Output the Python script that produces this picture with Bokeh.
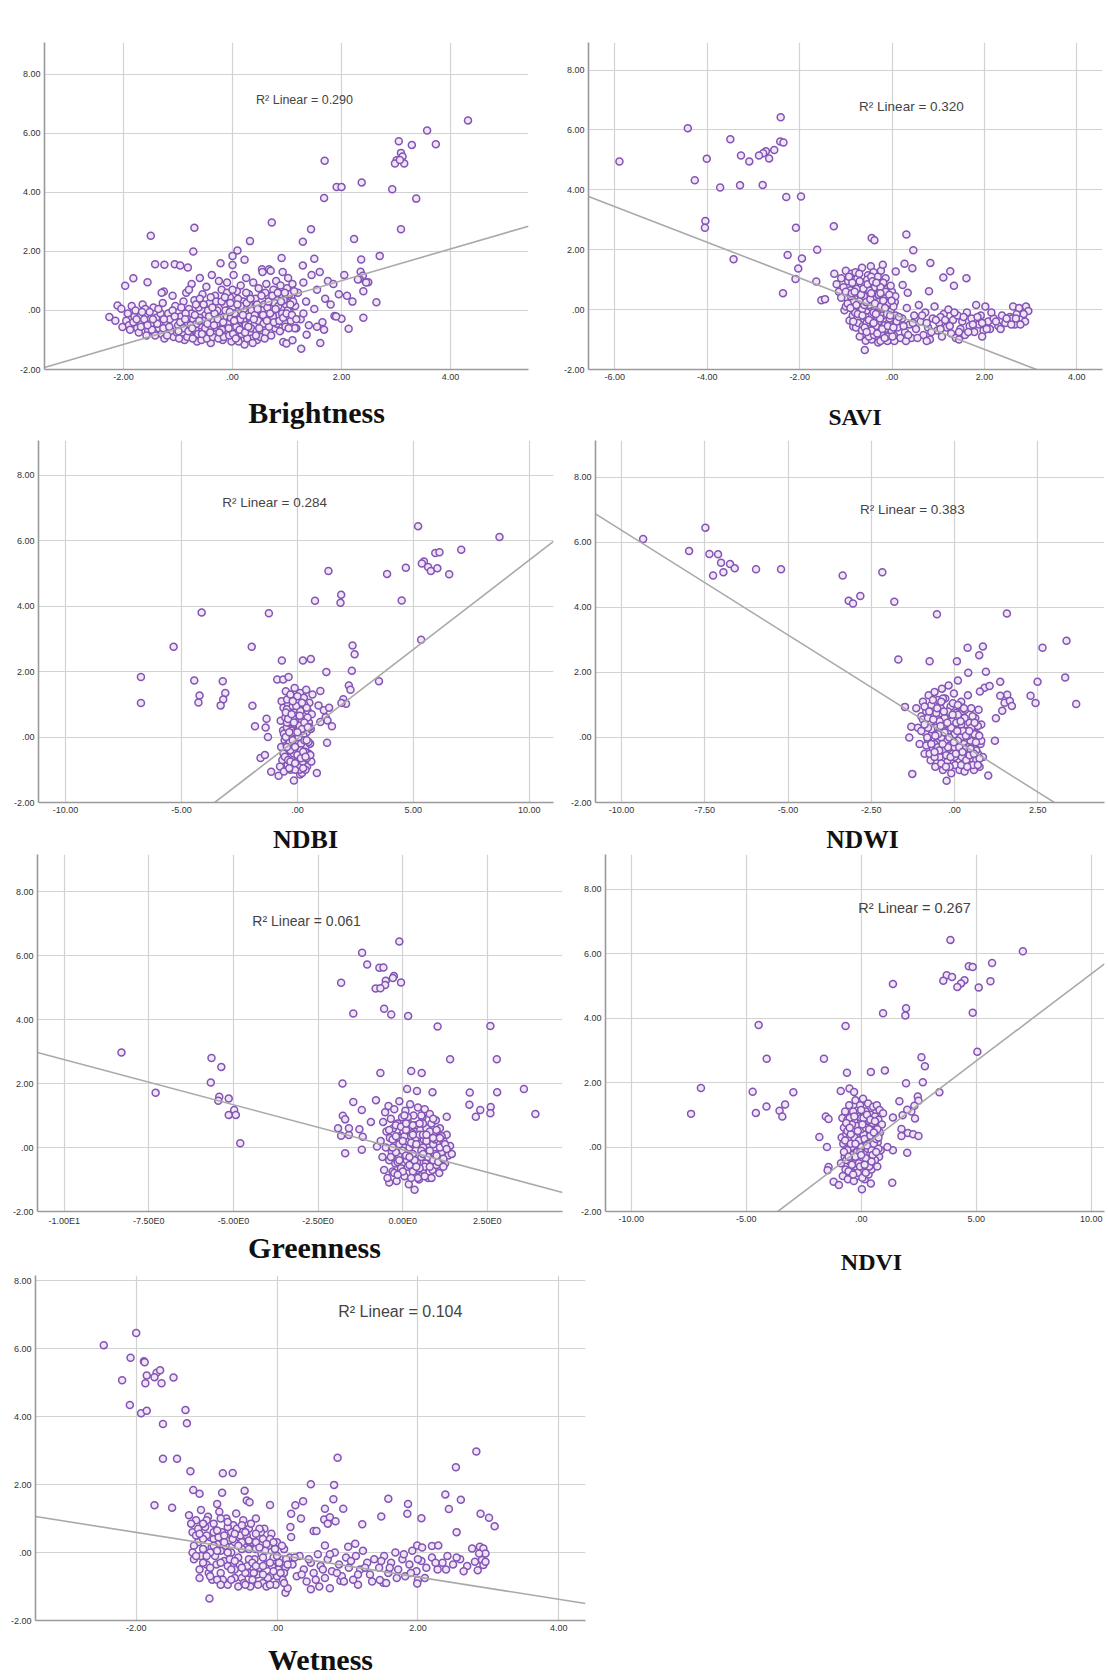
from bokeh.plotting import figure
from bokeh.layouts import column, row
from bokeh.models import Range1d, FixedTicker, CustomJSTickFormatter, Label
from bokeh.embed import file_html
from bokeh.resources import INLINE

# ---------------- data ----------------
y_ticks = [-2, 0, 2, 4, 6, 8]

titles = ["Brightness", "SAVI", "NDBI", "NDWI", "Greenness", "NDVI", "Wetness"]
r2_values = ["0.290", "0.320", "0.284", "0.383", "0.061", "0.267", "0.104"]
fit_slope = [0.539, -0.596, 0.546, -0.644, -0.282, 0.541, -0.328]
fit_intercept = [-0.07, -0.136, -0.05, -0.07, -0.073, -0.036, -0.065]

x_ticks_bright = [-2, 0, 2, 4]
x_ticks_savi = [-6, -4, -2, 0, 2, 4]
x_ticks_ndbi = [-10, -5, 0, 5, 10]
x_ticks_ndwi = [-10, -7.5, -5, -2.5, 0, 2.5]
x_ticks_green = [-10, -7.5, -5, -2.5, 0, 2.5]
x_ticks_ndvi = [-10, -5, 0, 5, 10]
x_ticks_wet = [-2, 0, 2, 4]

bright_pts = [
    (4.32, 6.44), (3.57, 6.10), (3.73, 5.63), (3.29, 5.61), (3.05, 5.73), (3.09, 5.34), (3.12, 5.22),
    (3.01, 5.09), (3.15, 4.98), (2.98, 4.98), (3.07, 5.1), (1.69, 5.07), (1.91, 4.18), (2.0, 4.18),
    (2.37, 4.34), (2.93, 4.11), (1.68, 3.81), (3.37, 3.79), (3.09, 2.75), (0.72, 2.98), (1.44, 2.75),
    (-0.70, 2.80), (-1.50, 2.53), (0.32, 2.35), (1.29, 2.33), (2.23, 2.42), (-0.72, 2.0), (0.09, 2.03),
    (0.0, 1.85), (2.70, 1.85), (0.9, 1.78), (1.5, 1.75), (2.36, 1.73), (0.22, 1.72), (-0.22, 1.6),
    (-1.42, 1.57), (-1.25, 1.55), (-1.06, 1.57), (-0.96, 1.52), (-0.82, 1.46), (0.0, 1.54), (1.29, 1.52),
    (0.54, 1.4), (0.67, 1.4), (2.35, 1.31), (2.39, 1.18), (2.33, 1.07), (2.49, 0.96), (-1.82, 1.09),
    (-1.56, 0.96), (-1.97, 0.84), (-1.26, 0.64), (2.4, 0.65), (2.64, 0.28), (2.4, -0.25), (2.13, -0.62),
    (2.0, -0.28), (1.87, -0.19), (1.17, -0.6), (1.36, -0.82), (1.68, -0.65), (1.61, -1.1), (1.26, -1.3),
    (0.93, -1.07), (0.99, -1.12), (1.1, -1.01), (-2.26, -0.22), (-2.15, -0.35), (-2.02, -0.56),
    (-2.11, 0.17), (-2.04, 0.06),
    (-1.95, -0.35), (-1.9, -0.5), (-1.85, 0.15), (-1.8, -0.2), (-1.75, -0.6), (-1.7, -0.4), (-1.65, 0.2),
    (-1.6, -0.15), (-1.55, -0.7), (-1.5, -0.45), (-1.45, 0.1), (-1.4, -0.25), (-1.35, -0.6), (-1.3, -0.8),
    (-1.28, 0.25), (-1.22, -0.4), (-1.18, -0.1), (-1.12, -0.7), (-1.08, -0.9), (-1.05, 0.15), (-1.0, -0.5),
    (-1.6, 0.05), (-1.72, -0.75), (-1.42, -0.85), (-1.25, -0.95),
    (-0.95, -0.2), (-0.92, -0.75), (-0.9, 0.3), (-0.88, -1.0), (-0.85, 0.6), (-0.82, -0.45), (-0.8, 0.05),
    (-0.78, -0.85), (-0.75, 0.9), (-0.72, -0.3), (-0.7, 0.35), (-0.68, -0.65), (-0.65, -1.05), (-0.62, 0.1),
    (-0.6, 1.1), (-0.58, -0.5), (-0.55, 0.55), (-0.52, -0.9), (-0.5, -0.15), (-0.48, 0.8), (-0.45, -0.7),
    (-0.42, 0.25), (-0.4, -1.1), (-0.38, 1.2), (-0.35, -0.35), (-0.32, 0.5), (-0.3, -0.8), (-0.28, 0.0),
    (-0.25, 1.0), (-0.22, -0.55), (-0.2, 0.7), (-0.18, -1.0), (-0.15, 0.2), (-0.12, -0.3), (-0.1, 0.95),
    (-0.08, -0.75), (-0.05, 0.45), (-0.02, -1.05), (0.0, 0.1), (0.02, 1.2), (0.05, -0.45), (0.08, 0.65),
    (0.1, -0.9), (0.12, -0.1), (0.15, 0.85), (0.18, -0.6), (0.2, 0.3), (0.22, -1.15), (0.25, 1.1),
    (0.28, -0.25), (0.3, 0.55), (0.32, -0.8), (0.35, 0.0), (0.38, 0.95), (0.4, -0.5), (0.42, 0.4),
    (0.45, -1.0), (0.48, 0.75), (-0.6, -0.25), (-0.3, 0.3), (0.0, -0.6), (0.2, -0.35), (-0.15, -0.2),
    (-0.45, 0.0), (-0.75, -0.1), (0.35, -0.95), (-0.1, 0.6), (0.1, 0.4),
    (0.52, -0.2), (0.55, 1.3), (0.58, 0.2), (0.6, -0.55), (0.62, 0.9), (0.65, 0.5), (0.68, -0.3),
    (0.7, 1.35), (0.72, 0.05), (0.75, 0.7), (0.78, -0.6), (0.8, 1.0), (0.82, 0.35), (0.85, -0.15),
    (0.88, 0.85), (0.9, 0.55), (0.92, 1.3), (0.95, -0.4), (0.98, 0.2), (1.0, 0.75), (1.02, 1.1),
    (1.05, -0.05), (1.08, 0.45), (1.1, 0.9), (1.15, 0.15),
    (1.2, 0.6), (1.25, -0.3), (1.3, 0.95), (1.35, 0.3), (1.4, -0.5), (1.45, 1.2), (1.5, 0.05), (1.55, 0.7),
    (1.6, 1.3), (1.65, -0.4), (1.7, 0.4), (1.75, 1.0), (1.8, 0.2), (1.85, 0.9), (1.9, -0.2), (1.95, 0.55),
    (2.05, 1.2), (2.1, 0.5), (2.2, 0.3), (2.3, 1.05), (2.45, 0.95), (1.55, -0.55), (1.3, -0.1),
]
bright_dense = [
    (-1.92, -0.1), (-1.88, -0.65), (-1.82, -0.4), (-1.78, 0.0), (-1.68, -0.55), (-1.62, -0.3), (-1.58, -0.85),
    (-1.52, -0.05), (-1.48, -0.65), (-1.38, -0.45), (-1.32, -0.1), (-1.27, -0.6), (-1.2, -0.85), (-1.15, -0.3),
    (-1.1, 0.0), (-1.02, -0.75), (-0.98, -0.95), (-0.96, -0.4), (-0.9, -0.6), (-0.86, -0.1), (-0.83, -0.9),
    (-0.77, -0.5), (-0.73, -0.95), (-0.69, -0.15), (-0.66, -0.45), (-0.63, -0.8), (-0.57, -1.0), (-0.54, -0.35),
    (-0.5, -0.6), (-0.47, -0.95), (-0.43, -0.2), (-0.39, -0.55), (-0.36, -0.9), (-0.33, -0.1), (-0.29, -0.45),
    (-0.26, -0.95), (-0.23, -0.25), (-0.19, -0.65), (-0.16, -0.9), (-0.13, 0.0), (-0.09, -0.45), (-0.06, -0.85),
    (-0.03, -0.25), (0.01, -0.8), (0.04, -0.1), (0.07, -0.55), (0.11, -1.05), (0.14, -0.3), (0.17, -0.8),
    (0.21, 0.05), (0.24, -0.5), (0.27, -0.95), (0.31, -0.2), (0.34, -0.6), (0.37, -1.1), (0.41, -0.15),
    (0.44, -0.7), (0.47, -0.35), (0.51, -0.9), (0.54, 0.0), (0.57, -0.45), (0.61, -0.75), (0.64, 0.1),
    (0.67, -0.55), (0.71, -0.85), (0.74, -0.2), (0.77, 0.25), (0.81, -0.45), (0.84, 0.15), (0.87, -0.7),
    (0.91, -0.1), (0.94, 0.35), (0.97, -0.55), (1.01, 0.0), (1.04, 0.55), (1.07, -0.35), (1.11, 0.3),
    (1.14, -0.6), (-0.4, 0.45), (-0.2, 0.3), (0.0, 0.7), (0.25, 0.6), (-0.6, 0.4), (-0.8, 0.7), (0.45, 0.2),
    (0.6, 0.6), (-1.1, 0.5), (-1.3, 0.6), (0.15, 0.15), (-0.05, -0.05), (0.3, 0.2),
]
bright_dense2 = [
    (-1.76, -0.3), (-1.66, -0.05), (-1.56, -0.5), (-1.46, -0.3), (-1.36, 0.05), (-1.26, -0.3), (-1.16, -0.55),
    (-1.06, -0.2), (-0.99, -0.7), (-0.94, 0.1), (-0.87, -0.3), (-0.81, -0.7), (-0.74, -0.6), (-0.67, 0.2),
    (-0.61, -0.35), (-0.56, -0.8), (-0.53, 0.2), (-0.46, -0.45), (-0.41, -0.75), (-0.37, 0.1), (-0.34, -0.5),
    (-0.27, -0.3), (-0.24, -0.75), (-0.17, -0.4), (-0.14, 0.45), (-0.07, -0.6), (-0.04, 0.25), (0.03, -0.35),
    (0.06, -0.95), (0.09, 0.2), (0.13, -0.65), (0.19, -0.15), (0.23, -0.75), (0.26, 0.25), (0.29, -0.55),
    (0.33, 0.4), (0.39, -0.3), (0.43, -0.85), (0.46, 0.05), (0.49, -0.6), (0.53, 0.5), (0.56, -0.15),
    (0.59, -0.95), (0.63, -0.35), (0.66, 0.3), (0.69, -0.1), (0.73, 0.5), (0.76, -0.4), (0.79, 0.05),
    (0.83, 0.6), (0.86, -0.35), (0.89, 0.3), (0.93, -0.25), (0.96, 0.6), (0.99, -0.1), (1.03, -0.6),
    (1.06, 0.2), (1.09, -0.15), (1.13, 0.65), (1.17, -0.3),
]

savi_pts = [
    (-5.90, 4.95), (-4.42, 6.06), (-2.41, 6.42), (-3.50, 5.69), (-2.42, 5.61), (-2.35, 5.58), (-2.55, 5.33),
    (-2.73, 5.29), (-2.79, 5.22), (-2.88, 5.15), (-2.66, 5.05), (-3.27, 5.15), (-3.09, 4.95), (-4.01, 5.04),
    (-4.27, 4.32), (-3.72, 4.08), (-3.29, 4.15), (-2.80, 4.16), (-2.29, 3.76), (-1.97, 3.78), (-4.04, 2.96),
    (-4.05, 2.73), (-2.08, 2.73), (-1.26, 2.78), (-3.43, 1.68), (-2.26, 1.82), (-1.95, 1.71), (-1.62, 2.0),
    (-2.36, 0.55), (-2.03, 1.37), (-2.09, 1.02), (-1.64, 0.94), (-1.53, 0.31), (-1.45, 0.35), (-1.03, -0.02),
    (-0.92, -0.36), (-0.84, -0.56), (-0.44, 2.39), (-0.38, 2.32), (0.31, 2.51), (0.46, 1.98), (0.08, 1.27),
    (0.27, 1.53), (0.44, 1.38), (0.83, 1.56), (1.26, 1.28), (1.61, 1.05), (1.11, 1.07), (1.34, 0.80),
    (0.80, 0.61), (0.34, 0.56), (0.23, 0.82), (-0.59, -1.35), (-0.57, -1.04),
    (-1.25, 1.2), (-1.2, 0.85), (-1.15, 0.6), (-1.1, 1.05), (-1.05, 0.75), (-1.0, 1.3), (-0.98, 0.4),
    (-0.95, 0.95), (-0.92, 0.15), (-0.9, 0.65), (-0.88, 1.2), (-0.85, -0.2), (-0.82, 0.85), (-0.8, 0.35),
    (-0.78, -0.6), (-0.75, 1.05), (-0.72, 0.05), (-0.7, 0.6), (-0.68, -0.35), (-0.65, 1.4), (-0.62, 0.25),
    (-0.6, -0.8), (-0.58, 0.8), (-0.55, -0.1), (-0.52, 1.15), (-0.5, 0.45), (-0.48, -0.55), (-0.46, 1.45),
    (-0.44, -1.0), (-0.42, 0.7), (-0.4, 0.1), (-0.38, -0.3), (-0.36, 1.0), (-0.34, -0.75), (-0.32, 0.4),
    (-0.3, -1.1), (-0.28, 0.9), (-0.26, -0.05), (-0.24, 1.3), (-0.22, -0.5), (-0.2, 0.55), (-0.18, -0.9),
    (-0.16, 0.2), (-0.14, 1.05), (-0.12, -0.25), (-0.1, 0.7), (-0.08, -0.7), (-0.06, 0.35), (-0.04, -1.0),
    (-0.02, 0.0), (0.0, 0.6), (0.02, -0.45), (0.04, -0.85), (0.06, 0.25), (0.08, -0.2), (-0.55, 0.5),
    (-0.35, 0.55), (-0.25, 0.25), (-0.65, 0.0), (-0.45, -0.2), (-0.15, -0.5), (-0.7, -0.9), (-0.5, -0.9),
    (-0.3, -0.6), (-0.1, -1.05), (-0.6, 0.9), (-0.4, 1.25), (-0.2, 1.5), (-0.85, 0.3), (-1.0, 0.1),
    (-1.1, 0.4), (-0.75, -0.3),
    (0.12, -0.6), (0.18, -0.95), (0.22, -0.3), (0.28, -0.75), (0.32, 0.05), (0.38, -0.5), (0.42, -0.95),
    (0.48, -0.2), (0.52, -0.65), (0.58, 0.15), (0.62, -0.4), (0.68, -0.85), (0.72, -0.1), (0.78, -0.6),
    (0.82, -1.0), (0.88, -0.3), (0.92, 0.1), (0.98, -0.7), (1.02, -0.45), (1.08, -0.9), (1.12, -0.15),
    (1.18, -0.6), (1.22, 0.0), (1.28, -0.8), (1.32, -0.35), (1.38, -0.95), (1.42, -0.2), (1.48, -0.65),
    (1.52, -0.4), (1.58, -0.85), (1.62, -0.1), (1.68, -0.55), (1.72, -0.3), (1.78, -0.75), (1.82, 0.15),
    (1.88, -0.5), (1.92, -0.2), (1.98, -0.7), (2.02, 0.1), (2.08, -0.4), (2.12, -0.65), (2.2, -0.3),
    (2.3, -0.55), (2.38, -0.2), (2.45, -0.45), (2.55, -0.25), (2.62, 0.1), (2.66, -0.5), (2.7, -0.15),
    (2.75, 0.05), (2.82, -0.3), (2.9, 0.1), (2.95, -0.05), (2.88, -0.4), (0.3, -1.05), (0.75, -1.05),
    (1.05, -0.25), (1.45, -1.0), (1.95, -0.9), (2.6, -0.3),
]
savi_dense = [
    (-1.0, 0.6), (-0.96, 0.2), (-0.93, 1.1), (-0.89, 0.45), (-0.86, 0.9), (-0.83, 0.05), (-0.79, 1.25),
    (-0.76, 0.7), (-0.73, -0.45), (-0.69, 0.3), (-0.66, 0.85), (-0.63, -0.55), (-0.61, 0.45), (-0.57, -0.25),
    (-0.54, 1.0), (-0.51, -0.65), (-0.49, 0.15), (-0.47, 0.8), (-0.43, -0.4), (-0.41, 0.35), (-0.39, -0.85),
    (-0.37, 0.75), (-0.33, -0.1), (-0.31, 1.1), (-0.29, -0.4), (-0.27, 0.6), (-0.23, -0.8), (-0.21, 0.1),
    (-0.19, 0.9), (-0.17, -0.3), (-0.13, 0.45), (-0.11, -0.9), (-0.09, 0.15), (-0.07, -0.45), (-0.03, 0.8),
    (-0.01, -0.7), (0.03, 0.1), (0.05, -1.05), (0.07, 0.45), (0.1, -0.4), (-0.5, 0.65), (-0.3, 0.25),
    (-0.2, -0.2), (-0.6, 0.15), (-0.4, -0.1), (-0.1, 0.2), (-0.7, 0.95), (-0.45, 1.1), (-0.25, 0.75),
    (-0.15, -0.65), (-0.35, -0.55), (-0.55, -0.45), (-0.8, -0.1), (-0.65, -0.7), (-0.25, -1.05), (-0.05, -0.3),
    (0.15, -0.25), (0.25, -0.55), (0.35, -0.85), (0.45, -0.45), (0.55, -0.95), (0.65, -0.2), (0.75, -0.45),
    (0.85, -0.75), (0.95, -0.35), (1.05, -0.65), (1.15, -0.35), (1.25, -0.55), (1.35, -0.1), (1.45, -0.75),
    (1.55, -0.25), (1.65, -0.75), (1.75, -0.5), (1.85, -0.25), (1.95, -0.45), (2.05, -0.65), (2.15, -0.1),
    (2.25, -0.4), (2.35, -0.65), (2.48, -0.3), (2.58, -0.5), (2.68, -0.3), (2.78, -0.5), (2.85, -0.15),
]
savi_dense2 = [
    (-0.9, 0.05), (-0.87, 0.55), (-0.84, -0.4), (-0.81, 0.6), (-0.77, 0.15), (-0.74, -0.15), (-0.71, 1.2),
    (-0.67, 0.5), (-0.64, -0.2), (-0.62, 0.7), (-0.59, -0.6), (-0.56, 0.25), (-0.53, 0.85), (-0.5, -0.35),
    (-0.47, 0.35), (-0.44, -0.7), (-0.42, 0.95), (-0.4, -0.45), (-0.37, 0.2), (-0.34, 0.9), (-0.32, -0.8),
    (-0.29, 0.5), (-0.26, -0.3), (-0.24, 0.1), (-0.21, -0.65), (-0.19, 0.3), (-0.16, -0.95), (-0.14, 0.6),
    (-0.11, -0.15), (-0.09, -0.55), (-0.06, 0.5), (-0.04, -0.2), (-0.01, 0.3), (0.01, -0.9), (0.03, -0.6),
    (-0.45, 0.55), (-0.25, 0.55), (-0.55, -0.75), (-0.35, -0.15), (-0.15, 0.05),
]

ndbi_pts = [
    (5.21, 6.45), (8.72, 6.12), (7.07, 5.73), (5.95, 5.63), (6.13, 5.65), (5.46, 5.37), (5.37, 5.31),
    (5.64, 5.2), (5.76, 5.08), (6.04, 5.16), (6.55, 4.98), (4.68, 5.18), (3.87, 4.99), (1.34, 5.08),
    (4.50, 4.18), (1.89, 4.35), (1.86, 4.11), (0.76, 4.17), (-4.13, 3.81), (-1.23, 3.79), (-5.34, 2.76),
    (-1.97, 2.76), (5.34, 2.98), (2.38, 2.80), (2.47, 2.53), (-0.67, 2.34), (0.24, 2.34), (0.58, 2.39),
    (2.35, 2.03), (1.25, 1.99), (-6.75, 1.84), (-6.75, 1.04), (-4.45, 1.73), (-3.22, 1.71), (-4.22, 1.27),
    (-4.27, 1.06), (-3.11, 1.35), (-3.2, 1.15), (-3.31, 0.97), (-1.94, 0.96), (3.52, 1.71), (2.22, 1.58),
    (2.29, 1.45), (1.98, 1.16), (2.1, 1.02), (1.9, 1.04), (0.99, 1.41), (-0.87, 1.76), (-0.61, 1.76),
    (-0.38, 1.84), (1.49, 0.33), (1.28, -0.17), (0.84, -1.1), (-1.83, 0.33), (-1.37, 0.29), (-1.33, 0.56),
    (-1.27, 0.0), (-1.59, -0.64), (-1.40, -0.55), (-1.13, -1.06), (-0.15, -1.33), (-0.81, -1.18),
    (0.12, -1.14), (0.91, 0.97), (1.14, 0.82), (1.37, 0.9), (0.99, 0.46), (1.22, 0.61), (1.3, 0.51),
    (-0.75, -0.9), (-0.72, 0.5), (-0.7, -0.3), (-0.68, 1.1), (-0.65, -0.7), (-0.62, 0.2), (-0.6, 0.9),
    (-0.58, -1.05), (-0.55, -0.1), (-0.52, 0.6), (-0.5, 1.4), (-0.48, -0.5), (-0.45, 0.3), (-0.42, -0.85),
    (-0.4, 1.0), (-0.38, 0.0), (-0.35, -0.4), (-0.32, 0.75), (-0.3, -1.0), (-0.28, 0.4), (-0.25, 1.25),
    (-0.22, -0.2), (-0.2, -0.7), (-0.18, 0.55), (-0.15, 0.1), (-0.12, 1.5), (-0.1, -0.55), (-0.08, 0.85),
    (-0.05, -0.95), (-0.02, 0.3), (0.0, -0.25), (0.02, 1.1), (0.05, -0.75), (0.08, 0.6), (0.1, 0.05),
    (0.12, 1.35), (0.15, -0.45), (0.18, 0.9), (0.2, -1.1), (0.22, 0.35), (0.25, -0.15), (0.28, 1.2),
    (0.3, -0.65), (0.32, 0.65), (0.35, -0.3), (0.38, 1.45), (0.4, 0.15), (0.42, -0.9), (0.45, 0.8),
    (0.48, -0.5), (0.5, 0.45), (0.52, 1.05), (0.55, -0.2), (0.58, 0.25), (0.6, -0.75), (0.62, 0.7),
    (0.65, 1.3), (-0.3, 0.1), (0.0, 0.5), (0.2, 0.0), (-0.15, -0.35), (-0.45, 0.85), (0.35, -1.0),
    (-0.6, -0.5), (0.1, -1.0), (-0.25, -0.6),
]
ndbi_dense = [
    (-0.58, 0.1), (-0.54, -0.6), (-0.5, 0.75), (-0.46, -0.25), (-0.44, 1.15), (-0.4, -0.7), (-0.36, 0.45),
    (-0.33, -0.15), (-0.3, 1.3), (-0.26, -0.85), (-0.23, 0.2), (-0.2, 0.95), (-0.16, -0.5), (-0.13, 0.4),
    (-0.1, -1.0), (-0.06, 0.65), (-0.03, -0.1), (0.0, 1.25), (0.03, -0.55), (0.06, 0.25), (0.1, -0.85),
    (0.13, 0.8), (0.16, -0.2), (0.2, 0.5), (0.23, -0.75), (0.26, 0.05), (0.3, 1.0), (0.33, -0.45),
    (0.36, 0.35), (0.4, -0.65), (0.44, 0.6), (0.48, -0.15), (0.52, 0.3), (0.56, -0.55), (-0.1, 0.15),
    (0.1, 0.35), (-0.3, -0.4), (0.3, -0.1), (-0.2, 0.6), (0.15, -0.4), (-0.45, 0.45), (0.4, 0.9),
    (-0.5, 0.0), (-0.45, -0.3), (-0.4, 0.55), (-0.35, 0.15), (-0.3, -0.75), (-0.25, 0.7), (-0.2, -0.1),
    (-0.15, 0.45), (-0.1, -0.3), (-0.05, 0.95), (0.0, -0.55), (0.05, 0.0), (0.1, 0.65), (0.15, -0.65),
    (0.2, 0.25), (0.25, -0.45), (0.3, 0.45), (0.35, -0.6), (0.4, -0.1), (0.45, 0.3), (-0.2, 1.1),
    (0.2, 1.05), (0.0, 0.15), (-0.35, -0.95), (0.25, -0.95), (-0.1, -0.8),
]

ndwi_pts = [
    (-9.35, 6.10), (-7.48, 6.45), (-7.97, 5.73), (-7.36, 5.64), (-7.10, 5.63), (-7.01, 5.37), (-6.74, 5.33),
    (-6.60, 5.20), (-6.94, 5.08), (-7.25, 4.98), (-5.96, 5.17), (-5.21, 5.17), (-3.36, 4.98), (-2.17, 5.08),
    (-3.18, 4.20), (-3.05, 4.12), (-2.83, 4.35), (-1.81, 4.17), (-0.53, 3.79), (1.57, 3.81), (-1.69, 2.40),
    (-0.75, 2.34), (0.07, 2.34), (0.39, 2.76), (0.85, 2.80), (0.74, 2.53), (0.41, 1.99), (0.94, 2.02),
    (3.36, 2.97), (2.64, 2.76), (3.32, 1.84), (2.49, 1.71), (2.28, 1.28), (2.43, 1.06), (3.65, 1.03),
    (1.37, 1.71), (1.58, 1.31), (1.5, 1.07), (1.43, 0.82), (1.66, 1.12), (1.72, 0.97), (1.37, 1.28),
    (0.9, 1.53), (1.05, 1.58), (0.76, 1.41), (1.24, 0.59), (1.21, -0.1), (-1.49, 0.94), (-1.27, -1.12),
    (1.01, -1.17), (-1.36, 0.0), (-1.30, 0.33), (-0.24, -1.33),
    (-1.15, 0.9), (-1.1, 0.3), (-1.05, -0.2), (-1.0, 0.65), (-0.95, 1.1), (-0.9, -0.5), (-0.88, 0.15),
    (-0.85, 0.8), (-0.8, -0.1), (-0.78, 1.3), (-0.75, 0.45), (-0.72, -0.7), (-0.7, 1.0), (-0.68, 0.1),
    (-0.65, -0.35), (-0.62, 0.7), (-0.6, 1.4), (-0.58, -0.9), (-0.55, 0.3), (-0.52, -0.15), (-0.5, 1.15),
    (-0.48, 0.55), (-0.45, -0.6), (-0.42, 0.9), (-0.4, 0.0), (-0.38, 1.5), (-0.35, -1.0), (-0.32, 0.4),
    (-0.3, -0.4), (-0.28, 1.2), (-0.25, 0.7), (-0.22, -0.75), (-0.2, 0.2), (-0.18, 1.6), (-0.15, -0.25),
    (-0.12, 0.95), (-0.1, -1.1), (-0.08, 0.5), (-0.05, -0.5), (-0.02, 1.35), (0.0, 0.1), (0.02, -0.85),
    (0.05, 0.75), (0.08, -0.3), (0.1, 1.75), (0.12, 0.35), (0.15, -1.0), (0.18, 0.0), (0.2, 1.1),
    (0.22, -0.6), (0.25, 0.6), (0.28, -0.2), (0.3, -1.05), (0.32, 0.85), (0.35, 0.2), (0.38, -0.45),
    (0.4, 1.3), (0.42, -0.8), (0.45, 0.45), (0.48, -0.1), (0.5, 0.9), (0.52, -0.65), (0.55, 0.3),
    (0.58, -1.0), (0.6, -0.35), (0.62, 0.6), (0.65, -0.7), (0.68, 0.1), (0.7, -0.5), (0.72, 0.85),
    (0.75, -0.9), (0.78, -0.2), (0.8, 0.4), (0.85, -0.6), (-0.6, -0.2), (-0.3, 0.6), (0.0, -0.3),
    (-0.45, 0.2), (0.2, 0.4), (-0.7, 0.5), (0.4, -0.3),
]
ndwi_dense = [
    (-1.0, 0.2), (-0.95, 0.55), (-0.9, 0.95), (-0.85, -0.25), (-0.8, 0.6), (-0.75, -0.5), (-0.7, 0.25),
    (-0.65, 1.15), (-0.6, -0.6), (-0.55, 0.75), (-0.5, -0.3), (-0.45, 0.5), (-0.4, -0.8), (-0.35, 1.2),
    (-0.3, 0.15), (-0.25, -0.55), (-0.2, 0.8), (-0.15, -0.9), (-0.1, 0.3), (-0.05, 1.05), (0.0, -0.6),
    (0.05, 0.45), (0.1, -0.1), (0.15, 0.95), (0.2, -0.85), (0.25, 0.2), (0.3, 0.6), (0.35, -0.7),
    (0.4, 0.05), (0.45, -0.55), (0.5, 0.3), (0.55, -0.85), (0.6, 0.1), (0.65, -0.4), (0.7, 0.35),
    (0.75, -0.65), (0.8, -0.1), (-0.2, -0.3), (0.1, 0.7), (-0.5, 0.1), (0.3, -0.35), (-0.8, 0.3),
    (-0.9, 0.4), (-0.82, 0.0), (-0.76, 0.8), (-0.7, -0.2), (-0.64, 0.55), (-0.58, 0.05), (-0.52, 0.9),
    (-0.46, -0.4), (-0.42, 0.35), (-0.36, -0.2), (-0.32, 0.8), (-0.26, -0.9), (-0.22, 0.45), (-0.16, 0.0),
    (-0.12, -0.6), (-0.06, 0.7), (-0.02, -0.15), (0.04, -0.5), (0.08, 0.2), (0.14, -0.3), (0.18, 0.5),
    (0.24, -0.45), (0.28, 0.9), (0.34, 0.05), (0.38, -0.9), (0.44, 0.2), (0.48, -0.35), (0.54, 0.65),
    (0.58, -0.5), (0.64, -0.15), (0.7, -0.85), (0.74, 0.05), (0.1, 1.0), (-0.4, 1.1), (0.6, 0.45),
    (-0.6, -0.45),
]

green_pts = [
    (-0.10, 6.44), (-1.20, 6.09), (-1.05, 5.72), (-0.69, 5.62), (-0.57, 5.63), (-0.26, 5.36), (-0.29, 5.30),
    (-0.5, 5.21), (-0.52, 5.08), (-0.05, 5.16), (-1.82, 5.15), (-0.80, 4.97), (-0.66, 4.98), (-0.55, 4.34),
    (-1.46, 4.19), (-0.34, 4.16), (0.16, 4.11), (1.03, 3.78), (2.59, 3.80), (-8.31, 2.97), (-5.65, 2.80),
    (-5.36, 2.52), (-5.67, 2.03), (-7.30, 1.71), (1.40, 2.76), (2.78, 2.76), (-0.66, 2.33), (0.25, 2.39),
    (0.56, 2.33), (-1.78, 2.0), (0.13, 1.83), (0.42, 1.77), (0.88, 1.73), (1.98, 1.72), (2.79, 1.73),
    (3.58, 1.83), (3.92, 1.05), (1.97, 1.34), (2.29, 1.17), (2.16, 0.96), (2.6, 1.27), (2.59, 1.07),
    (1.30, 0.96), (-5.42, 1.59), (-5.45, 1.46), (-5.14, 1.53), (-4.98, 1.17), (-5.14, 1.02), (-4.93, 1.02),
    (-4.80, 0.13), (-1.46, 1.42), (-1.21, 1.17), (-1.77, 0.99), (-1.70, 0.88), (-0.79, 1.48), (-1.91, 0.60),
    (-1.82, 0.37), (-1.59, 0.39), (-1.59, 0.60), (-1.28, 0.57), (-1.18, 0.34), (-0.94, 0.80), (-1.70, -0.18),
    (-1.21, -0.07), (-0.76, 0.03), (-0.40, -1.09), (0.35, -1.32),
    (-0.65, 0.2), (-0.6, -0.3), (-0.58, 0.8), (-0.55, -0.7), (-0.52, 1.1), (-0.5, 0.0), (-0.48, 0.5),
    (-0.45, -0.95), (-0.42, 1.3), (-0.4, -0.4), (-0.38, 0.3), (-0.35, 0.9), (-0.32, -0.15), (-0.3, -0.75),
    (-0.28, 0.6), (-0.25, 1.2), (-0.22, -0.5), (-0.2, 0.1), (-0.18, -1.05), (-0.15, 0.75), (-0.12, -0.25),
    (-0.1, 1.45), (-0.08, 0.35), (-0.05, -0.65), (-0.02, 0.95), (0.0, -0.1), (0.02, 0.5), (0.05, -0.9),
    (0.08, 1.15), (0.1, 0.2), (0.12, -0.4), (0.15, 0.8), (0.18, -1.15), (0.2, 0.0), (0.22, 1.35),
    (0.25, -0.6), (0.28, 0.45), (0.3, -0.2), (0.32, 1.0), (0.35, -0.85), (0.38, 0.3), (0.4, 0.7),
    (0.42, -0.45), (0.45, 1.25), (0.48, -1.0), (0.5, 0.1), (0.52, 0.55), (0.55, -0.3), (0.58, 0.95),
    (0.6, -0.7), (0.62, 0.25), (0.65, 1.2), (0.68, -0.5), (0.7, 0.6), (0.72, -0.1), (0.75, -0.95),
    (0.78, 0.35), (0.8, 1.05), (0.82, -0.35), (0.85, 0.75), (0.88, -0.7), (0.9, 0.1), (0.92, 0.45),
    (0.95, -0.2), (0.98, 0.85), (1.0, -0.55), (1.05, 0.3), (1.08, -0.8), (1.1, 0.6), (1.15, -0.15),
    (1.2, 0.2), (1.25, -0.5), (1.3, 0.4), (1.35, -0.25), (1.4, 0.05), (1.45, -0.2), (0.3, 0.1), (0.6, 0.0),
    (-0.1, 0.3), (0.15, -0.6), (0.45, -0.7), (0.8, -0.1),
]
green_dense = [
    (-0.4, 0.55), (-0.35, -0.3), (-0.3, 0.25), (-0.25, -0.8), (-0.2, 0.7), (-0.15, -0.45), (-0.1, 0.1),
    (-0.05, 0.65), (0.0, -0.75), (0.05, 0.35), (0.1, -0.25), (0.15, 0.95), (0.2, -0.55), (0.25, 0.15),
    (0.3, 0.7), (0.35, -0.4), (0.4, 0.1), (0.45, -0.95), (0.5, 0.4), (0.55, -0.1), (0.6, 0.75), (0.65, -0.6),
    (0.7, 0.2), (0.75, -0.3), (0.8, 0.5), (0.85, -0.95), (0.9, -0.4), (0.95, 0.25), (1.0, 0.55), (1.05, -0.45),
    (1.1, 0.0), (1.15, 0.35), (1.2, -0.35), (1.25, 0.1), (0.3, -0.75), (0.6, 0.4), (0.1, 0.55), (-0.2, -0.15),
    (0.9, 0.9), (0.5, -0.65),
    (-0.3, 0.0), (-0.2, 0.35), (-0.1, -0.4), (0.0, 0.2), (0.1, 0.75), (0.2, -0.3), (0.3, 0.4), (0.4, -0.6),
    (0.5, 0.75), (0.6, -0.2), (0.7, 0.4), (0.8, -0.6), (0.9, 0.3), (1.0, -0.25), (1.1, 0.3), (1.2, -0.6),
    (0.25, -0.95), (0.65, -0.9), (0.05, 1.0), (0.55, 1.0), (-0.15, -0.85), (1.3, -0.05),
]

ndvi_pts = [
    (3.88, 6.43), (7.03, 6.08), (5.69, 5.71), (4.68, 5.61), (4.85, 5.59), (3.72, 5.33), (3.95, 5.28),
    (3.57, 5.16), (4.49, 5.18), (4.34, 5.08), (4.18, 4.97), (5.62, 5.15), (5.11, 4.95), (1.38, 5.06),
    (0.95, 4.15), (1.95, 4.31), (1.92, 4.08), (4.85, 4.17), (-4.46, 3.79), (-0.68, 3.76), (5.05, 2.96),
    (-4.11, 2.74), (-1.62, 2.74), (2.62, 2.79), (2.77, 2.51), (-0.62, 2.31), (0.42, 2.33), (1.03, 2.38),
    (1.95, 1.98), (2.68, 2.01), (-6.97, 1.83), (-7.40, 1.03), (-4.72, 1.72), (-2.95, 1.70), (-4.58, 1.06),
    (-4.12, 1.26), (-3.55, 1.13), (-3.43, 0.95), (-3.31, 1.32), (3.40, 1.70), (1.66, 1.42), (2.46, 1.57),
    (2.49, 1.44), (2.31, 1.28), (2.18, 1.10), (2.34, 0.89), (2.0, 1.16), (1.38, 0.92), (1.8, 0.99),
    (1.75, 0.56), (2.03, 0.44), (2.26, 0.40), (2.49, 0.34), (1.75, 0.34), (1.38, -0.10), (2.0, -0.18),
    (1.35, -1.11), (1.14, 0.0), (-1.82, 0.31), (-1.49, 0.0), (-1.54, 0.95), (-1.42, 0.87), (-1.42, -0.62),
    (-1.46, -0.72), (-1.2, -1.08), (-0.97, -1.18), (0.03, -1.31), (0.42, -1.13), (-0.89, 1.74),
    (-0.51, 1.82), (-0.31, 1.71),
    (-0.88, -0.5), (-0.85, 0.3), (-0.82, 0.9), (-0.8, -0.9), (-0.78, 0.1), (-0.75, 0.6), (-0.72, -0.3),
    (-0.7, 1.1), (-0.68, -0.7), (-0.65, 0.4), (-0.62, -0.05), (-0.6, 0.85), (-0.58, -1.0), (-0.55, 0.2),
    (-0.52, 1.3), (-0.5, -0.45), (-0.48, 0.65), (-0.45, -0.8), (-0.42, 0.0), (-0.4, 1.0), (-0.38, -0.25),
    (-0.35, 0.5), (-0.32, -1.05), (-0.3, 0.8), (-0.28, 0.15), (-0.25, 1.45), (-0.22, -0.6), (-0.2, 0.35),
    (-0.18, -0.15), (-0.15, 1.15), (-0.12, -0.9), (-0.1, 0.6), (-0.08, 0.05), (-0.05, 1.3), (-0.02, -0.4),
    (0.0, 0.9), (0.02, -0.75), (0.05, 0.3), (0.08, 1.5), (0.1, -0.2), (0.12, 0.7), (0.15, -1.0),
    (0.18, 0.1), (0.2, 1.1), (0.22, -0.5), (0.25, 0.45), (0.28, -0.05), (0.3, 1.35), (0.32, -0.85),
    (0.35, 0.8), (0.38, 0.2), (0.4, -0.35), (0.42, 1.0), (0.45, -0.7), (0.48, 0.55), (0.5, 0.0),
    (0.52, 1.25), (0.55, -0.5), (0.58, 0.35), (0.6, 0.95), (0.62, -0.2), (0.65, 0.6), (0.68, 1.3),
    (0.7, -0.6), (0.72, 0.15), (0.75, 0.85), (0.78, -0.3), (0.8, 1.15), (0.82, 0.45), (0.85, -0.1),
    (0.9, 0.7), (0.95, 1.05), (-0.3, -0.5), (0.1, 0.4), (0.3, -0.4), (-0.5, 0.3), (0.0, 0.0), (0.4, 0.6),
]
ndvi_dense = [
    (-0.7, 0.2), (-0.65, -0.4), (-0.6, 0.5), (-0.55, -0.75), (-0.5, 0.9), (-0.45, 0.1), (-0.4, -0.55),
    (-0.35, 1.1), (-0.3, 0.3), (-0.25, -0.3), (-0.2, 0.65), (-0.15, -0.8), (-0.1, 0.2), (-0.05, -0.15),
    (0.0, 0.55), (0.05, -0.95), (0.1, 0.9), (0.15, 0.25), (0.2, -0.35), (0.25, 1.0), (0.3, 0.1),
    (0.35, -0.6), (0.4, 0.35), (0.45, -0.1), (0.5, 0.75), (0.55, 0.1), (0.6, -0.4), (0.65, 0.25),
    (0.7, 0.55), (0.75, -0.05), (-0.4, 0.7), (0.2, 0.6), (-0.1, -0.5), (0.5, -0.25), (-0.6, -0.1), (0.0, 1.15),
    (-0.75, -0.15), (-0.65, 0.75), (-0.55, -0.3), (-0.45, 0.4), (-0.35, -0.85), (-0.25, 0.1), (-0.15, 0.5),
    (-0.05, -0.6), (0.05, 0.7), (0.15, -0.55), (0.25, 0.05), (0.35, 0.55), (0.45, -0.45), (0.55, 0.45),
    (0.65, -0.15), (0.75, 0.3), (-0.3, 0.95), (0.2, -0.8), (0.0, -0.25), (0.4, 0.85), (-0.5, 0.6), (0.6, 0.8),
]

wet_pts = [
    (-2.46, 6.10), (-2.0, 6.46), (-2.08, 5.73), (-1.89, 5.63), (-1.88, 5.60), (-2.20, 5.07), (-1.85, 5.21),
    (-1.87, 4.98), (-1.71, 5.29), (-1.74, 5.16), (-1.66, 5.36), (-1.64, 4.98), (-1.47, 5.15), (-2.09, 4.34),
    (-1.93, 4.10), (-1.85, 4.17), (-1.30, 4.19), (-1.28, 3.80), (-1.62, 3.78), (-1.62, 2.76), (-1.42, 2.76),
    (-1.23, 2.39), (-0.77, 2.33), (-0.63, 2.34), (-1.19, 1.84), (-1.10, 1.73), (-0.78, 1.76), (-0.46, 1.82),
    (-1.74, 1.39), (-1.49, 1.32), (-0.85, 1.43), (-0.43, 1.53), (-0.39, 1.48), (-0.10, 1.40), (0.86, 2.79),
    (0.48, 2.01), (0.81, 1.99), (0.80, 1.57), (0.94, 1.29), (0.37, 1.51), (0.26, 1.39), (0.20, 1.14),
    (0.68, 1.29), (0.20, 0.46), (0.19, 0.75), (0.34, 1.0), (0.52, 0.63), (0.56, 0.63), (0.67, 0.97),
    (0.75, 1.04), (0.83, 0.92), (0.72, 0.85), (0.68, 0.21), (1.21, 0.83), (1.01, 0.17), (1.11, 0.26),
    (1.48, 1.06), (1.58, 1.58), (1.86, 1.43), (1.85, 1.14), (2.05, 1.01), (1.99, 0.21), (2.06, 0.15),
    (2.2, 0.19), (2.29, 0.21), (2.39, 1.71), (2.54, 2.51), (2.83, 2.97), (2.44, 1.28), (2.61, 1.55),
    (2.55, 0.60), (2.89, 1.14), (3.01, 1.02), (3.09, 0.77), (2.77, 0.12), (2.88, 0.17), (2.93, 0.12),
    (2.96, -0.03), (2.91, -0.22), (2.93, -0.37), (2.85, -0.52), (2.96, -0.27), (2.87, -0.03), (2.81, -0.27),
    (2.0, -0.81), (1.99, -0.91), (1.51, -0.89), (1.46, -0.81), (0.9, -0.83), (0.75, -1.05), (0.48, -1.08),
    (-0.96, -1.35), (0.12, -1.18),
    (-1.25, 1.1), (-1.2, 0.6), (-1.18, -0.2), (-1.15, 0.95), (-1.12, 0.3), (-1.1, -0.5), (-1.08, 1.25),
    (-1.05, 0.1), (-1.02, 0.75), (-1.0, -0.35), (-0.98, 1.05), (-0.95, 0.45), (-0.92, -0.8), (-0.9, 0.85),
    (-0.88, -0.1), (-0.85, 0.25), (-0.82, 1.2), (-0.8, -0.6), (-0.78, 0.6), (-0.75, -0.25), (-0.72, 1.0),
    (-0.7, -0.95), (-0.68, 0.35), (-0.65, 0.0), (-0.62, 0.8), (-0.6, -0.5), (-0.58, 1.15), (-0.55, -0.15),
    (-0.52, 0.5), (-0.5, -0.75), (-0.48, 0.95), (-0.45, 0.15), (-0.42, -0.4), (-0.4, 0.7), (-0.38, -1.0),
    (-0.35, 0.3), (-0.32, -0.2), (-0.3, 1.0), (-0.28, -0.65), (-0.25, 0.45), (-0.22, -0.05), (-0.2, -0.9),
    (-0.18, 0.7), (-0.15, -0.35), (-0.12, 0.2), (-0.1, -0.7), (-0.08, 0.55), (-0.05, -0.15), (-0.02, -0.95),
    (0.0, 0.3), (0.02, -0.5), (0.05, -0.2), (0.08, -0.8), (0.1, 0.1), (0.12, -0.45), (0.15, -1.05),
    (0.18, -0.15), (-0.9, 0.4), (-0.6, 0.3), (-0.3, 0.1), (-0.7, -0.4), (-0.4, -0.6), (-1.0, 0.5),
    (-0.5, 0.3), (-0.2, 0.4), (-0.8, 0.05), (-0.55, -1.0), (-0.25, -0.45), (-1.15, 0.5), (-0.65, 0.6),
    (0.22, -0.35), (0.28, -0.7), (0.32, -0.1), (0.38, -0.5), (0.42, -0.85), (0.48, -0.3), (0.52, -0.6),
    (0.58, -0.05), (0.62, -0.4), (0.68, -0.75), (0.72, -0.2), (0.78, -0.55), (0.82, 0.0), (0.88, -0.35),
    (0.92, -0.7), (0.98, -0.15), (1.02, -0.45), (1.08, -0.8), (1.12, -0.1), (1.18, -0.5), (1.22, 0.05),
    (1.28, -0.3), (1.32, -0.65), (1.38, -0.2), (1.45, -0.45), (1.52, -0.1), (1.58, -0.6), (1.62, -0.3),
    (1.68, 0.0), (1.72, -0.5), (1.78, -0.2), (1.82, -0.7), (1.88, -0.35), (1.92, 0.05), (1.98, -0.55),
    (2.05, -0.25), (2.12, -0.45), (2.2, -0.15), (2.28, -0.5), (2.35, -0.3), (2.42, -0.1), (2.5, -0.35),
    (2.6, -0.2), (2.7, -0.4), (1.15, -0.95), (1.55, -0.9), (0.6, -1.0),
]
wet_dense = [
    (-1.22, 0.85), (-1.18, 0.2), (-1.12, 0.7), (-1.08, -0.1), (-1.05, 0.4), (-1.0, 0.95), (-0.97, -0.6),
    (-0.93, 0.15), (-0.9, 0.6), (-0.86, -0.35), (-0.83, 0.45), (-0.8, 1.0), (-0.77, -0.8), (-0.73, 0.2),
    (-0.7, 0.75), (-0.67, -0.2), (-0.63, 0.4), (-0.6, -0.75), (-0.57, 0.7), (-0.53, -0.35), (-0.5, 0.1),
    (-0.47, -0.9), (-0.43, 0.5), (-0.4, -0.2), (-0.37, 0.85), (-0.33, -0.6), (-0.3, 0.3), (-0.27, -0.95),
    (-0.23, 0.6), (-0.2, -0.4), (-0.17, 0.05), (-0.13, -0.75), (-0.1, 0.4), (-0.07, -0.4), (-0.03, 0.1),
    (0.0, -0.7), (0.03, -0.3), (0.07, 0.2), (0.1, -0.6), (0.13, -0.2), (-0.95, 0.0), (-0.65, -0.5),
    (-0.35, -0.3), (-0.15, -1.0), (-0.45, -0.6), (-0.75, 0.5), (-1.05, -0.3), (-0.85, -0.8), (-0.25, 0.15),
    (-0.05, -0.55),
    (0.25, -0.15), (0.35, -0.65), (0.45, -0.2), (0.55, -0.8), (0.65, -0.5), (0.75, -0.05), (0.85, -0.6),
    (0.95, -0.85), (1.05, -0.25), (1.15, -0.65), (1.25, -0.45), (1.35, -0.85), (1.48, -0.25), (1.6, -0.45),
    (1.7, -0.75), (1.8, -0.05), (1.9, -0.6), (2.0, -0.2), (2.1, -0.75), (2.25, -0.3), (2.4, -0.5),
    (2.55, -0.15), (2.65, -0.55),
]
wet_dense2 = [
    (-1.2, 0.0), (-1.15, -0.1), (-1.1, 0.55), (-1.05, 0.85), (-1.0, -0.1), (-0.95, -0.45), (-0.9, 0.2),
    (-0.85, 0.65), (-0.8, -0.3), (-0.75, 0.3), (-0.7, 0.0), (-0.65, -0.8), (-0.6, 0.55), (-0.55, 0.2),
    (-0.5, -0.45), (-0.45, 0.6), (-0.4, 0.1), (-0.35, -0.8), (-0.3, -0.4), (-0.25, 0.7), (-0.2, -0.15),
    (-0.15, 0.25), (-0.1, -0.3), (-0.05, 0.3), (0.0, -0.1), (0.05, -0.6), (0.1, -0.9), (0.15, -0.35),
    (-0.85, 0.05), (-0.6, -0.25), (-0.4, 0.35), (-0.2, -0.65), (-0.95, -0.7), (-0.7, 0.9), (-0.5, 0.8),
    (-0.3, 0.55), (-1.1, -0.75), (-0.8, -0.95), (-0.45, -0.95), (-0.1, -0.95),
]

# ---------------- styles / layout ----------------
PURPLE = "#8454b4"
FILL = "#eee5f6"
GRID = "#d2d2d2"
AXIS = "#9a9a9a"
LABEL_FONT = "Liberation Sans"
TITLE_FONT = "Liberation Serif"
ROW_W = 1106
STRIP_L, STRIP_R = 35, 10   # same side borders as the last panel, which shares the column with the strips

fmt_fixed = "const s = tick.toFixed(2); return (s === '0.00' || s === '-0.00') ? '.00' : s;"
fmt_exp = "return tick.toExponential(2).replace('e+', 'E').replace('e-', 'E-');"

# per panel: x range, y max, canvas w/h, borders (l, r, t, b), R2 label (x, y, size)
specs = [
    dict(pts=bright_pts + bright_dense + bright_dense2, xt=x_ticks_bright, fmt=fmt_fixed, xr=(-3.45, 5.43),
         ymax=9.08, w=550, h=385, b=(44, 22, 42, 15), r2=(1.32, 7.12, "12.5px")),
    dict(pts=savi_pts + savi_dense + savi_dense2, xt=x_ticks_savi, fmt=fmt_fixed, xr=(-6.57, 4.555),
         ymax=8.92, w=556, h=385, b=(38, 4, 12, 16), r2=(0.42, 6.78, "13.5px")),
    dict(pts=ndbi_pts + ndbi_dense, xt=x_ticks_ndbi, fmt=fmt_fixed, xr=(-11.17, 11.05), ymax=9.07,
         w=565, h=380, b=(38, 12, 4, 14), r2=(-0.98, 7.17, "13.5px")),
    dict(pts=ndwi_pts + ndwi_dense, xt=x_ticks_ndwi, fmt=fmt_fixed, xr=(-10.78, 4.50), ymax=9.13,
         w=541, h=380, b=(30, 2, 2, 14), r2=(-1.27, 7.02, "13.5px")),
    dict(pts=green_pts + green_dense, xt=x_ticks_green, fmt=fmt_exp, xr=(-10.79, 4.72), ymax=9.16,
         w=566, h=375, b=(37, 4, 1, 17), r2=(-2.84, 7.09, "14px")),
    dict(pts=ndvi_pts + ndvi_dense, xt=x_ticks_ndvi, fmt=fmt_fixed, xr=(-11.12, 10.58), ymax=9.08,
         w=540, h=375, b=(39, 2, 0, 15), r2=(2.32, 7.42, "14.5px")),
    dict(pts=wet_pts + wet_dense + wet_dense2, xt=x_ticks_wet, fmt=fmt_fixed, xr=(-3.43, 4.38), ymax=8.15,
         w=595, h=361, b=(STRIP_L, STRIP_R, 0, 16), r2=(1.75, 7.1, "16px")),
]

# caption strips: height, and for each caption (title index, centre x px on page, middle y px, font size)
strips = [
    (51, [(0, 316, 27.4, "30px"), (1, 854.5, 31.5, "23.5px")]),
    (37, [(2, 305, 22.7, "26px"), (3, 862, 22.8, "25.5px")]),
    (47, [(4, 314, 19.4, "30px"), (5, 871, 33.8, "24px")]),
    (42, [(6, 320, 23.4, "30px")]),
]


def make_panel(i, s):
    x0, x1 = s["xr"]
    p = figure(width=s["w"], height=s["h"], output_backend="svg", toolbar_location=None,
               x_range=Range1d(x0, x1), y_range=Range1d(-2, s["ymax"]),
               min_border_left=s["b"][0], min_border_right=s["b"][1],
               min_border_top=s["b"][2], min_border_bottom=s["b"][3])
    p.outline_line_color = None
    p.background_fill_color = "white"
    p.border_fill_color = "white"

    p.xaxis.ticker = FixedTicker(ticks=s["xt"])
    p.yaxis.ticker = FixedTicker(ticks=y_ticks)
    p.xaxis.formatter = CustomJSTickFormatter(code=s["fmt"])
    p.yaxis.formatter = CustomJSTickFormatter(code=fmt_fixed)
    for ax in (p.xaxis, p.yaxis):
        ax.axis_line_color = AXIS
        ax.axis_line_width = 1.6
        ax.major_tick_line_color = None
        ax.minor_tick_line_color = None
        ax.major_tick_out = 0
        ax.major_tick_in = 0
        ax.major_label_text_font = LABEL_FONT
        ax.major_label_text_font_size = "9px"
        ax.major_label_text_color = "#333333"
        ax.major_label_standoff = 4
    p.grid.grid_line_color = GRID
    p.grid.grid_line_width = 1.2

    xs = [q[0] for q in s["pts"]]
    ys = [q[1] for q in s["pts"]]
    p.scatter(xs, ys, marker="circle", size=7, line_color=PURPLE, line_width=1.5, fill_color=FILL)

    a, b = fit_intercept[i], fit_slope[i]
    p.line([x0, x1], [a + b * x0, a + b * x1], line_color="#a9a9a9", line_width=1.6)

    rx, ry, rsize = s["r2"]
    p.add_layout(Label(x=rx, y=ry, text="R² Linear = " + r2_values[i], text_font=LABEL_FONT,
                       text_font_size=rsize, text_color="#444444", text_align="center",
                       text_baseline="middle"))
    return p


def make_strip(h, captions):
    p = figure(width=ROW_W, height=h, output_backend="svg", toolbar_location=None,
               x_range=Range1d(STRIP_L, ROW_W - STRIP_R), y_range=Range1d(h, 0),
               x_axis_type=None, y_axis_type=None,
               min_border_left=STRIP_L, min_border_right=STRIP_R, min_border_top=0, min_border_bottom=0)
    p.outline_line_color = None
    p.background_fill_color = "white"
    p.border_fill_color = "white"
    for ti, cx, cy, size in captions:
        p.add_layout(Label(x=cx, y=cy, text=titles[ti], text_font=TITLE_FONT, text_font_size=size,
                           text_font_style="bold", text_color="#111111", text_align="center",
                           text_baseline="middle"))
    return p


panels = [make_panel(i, s) for i, s in enumerate(specs)]
caps = [make_strip(h, c) for h, c in strips]

layout = column(row(panels[0], panels[1]), caps[0],
                row(panels[2], panels[3]), caps[1],
                row(panels[4], panels[5]), caps[2],
                panels[6], caps[3])

open("out.html", "w").write(file_html(layout, INLINE))
